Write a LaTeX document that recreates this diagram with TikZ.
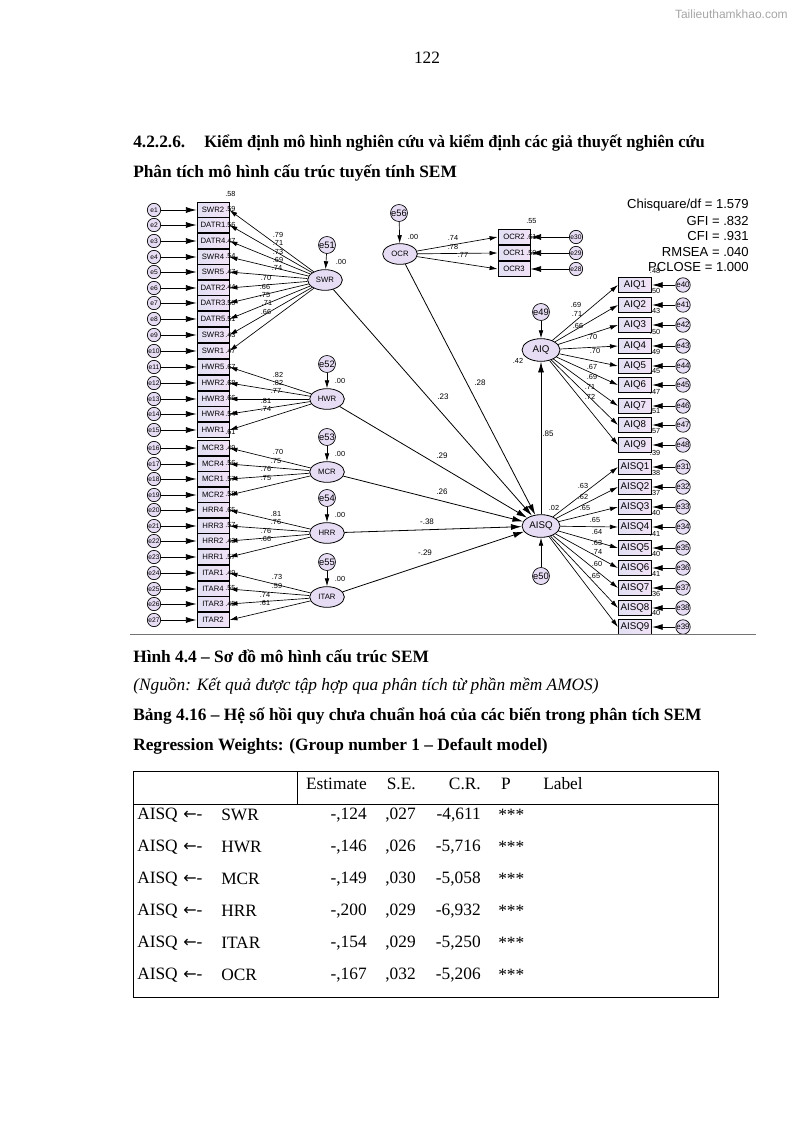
\documentclass[tikz,border=0pt]{standalone}
\usepackage{fontspec}
\setmainfont{Liberation Serif}
\setsansfont{Liberation Sans}
\newfontfamily\arrowfont{DejaVu Sans}
\usetikzlibrary{shapes.geometric,arrows.meta,calc}
\definecolor{boxL}{RGB}{226,224,244}
\definecolor{boxR}{RGB}{242,226,246}
\definecolor{latfill}{RGB}{230,220,243}
\begin{document}
\begin{tikzpicture}[x=0.75pt,y=-0.75pt,
 ind/.style={draw, line width=0.6pt, left color=boxL, right color=boxR, minimum width=24pt, minimum height=11pt, inner sep=0pt, font=\sffamily\fontsize{5.8}{6}\selectfont},
 indR/.style={ind, minimum width=25pt, minimum height=11pt, font=\sffamily\fontsize{7.3}{8}\selectfont},
 err/.style={circle, draw, line width=0.5pt, fill=latfill, minimum size=10pt, inner sep=0pt, font=\sffamily\fontsize{5}{5}\selectfont},
 errL/.style={err, minimum size=12.75pt, font=\sffamily\fontsize{7}{7}\selectfont},
 lat/.style={ellipse, draw, line width=0.6pt, fill=latfill, minimum width=26pt, minimum height=15.5pt, inner sep=0pt, font=\sffamily\fontsize{5.8}{6}\selectfont},
 latR/.style={lat, minimum width=28.5pt, minimum height=17pt, font=\sffamily\fontsize{7.3}{8}\selectfont},
 arrE/.style={-{Latex[length=8pt,width=4.5pt]}, line width=0.6pt},
 arrL/.style={-{Latex[length=6pt,width=3.5pt]}, line width=0.5pt},
 lbl/.style={inner sep=0pt, font=\sffamily\fontsize{5.5}{6}\selectfont},
 lblB/.style={inner sep=0pt, font=\sffamily\fontsize{6}{6}\selectfont},
 txt/.style={anchor=west, inner sep=0pt, font=\fontsize{13}{15}\selectfont},
 cell/.style={inner sep=0pt, font=\fontsize{13}{15}\selectfont},
]
\useasboundingbox (0,0) rectangle (794,1123);

% watermark and page number
\node[anchor=east, inner sep=0pt, text=black!35, font=\sffamily\fontsize{9}{10}\selectfont] (wm) at (788,14) {Tailieuthamkhao.com};
\node[cell] (pg) at (427,58) {122};

% headings
\node[txt, font=\bfseries\fontsize{13}{15}\selectfont] (h1) at (133,143) {4.2.2.6.\hspace{1.1em}\scalebox{0.955}[1]{Kiểm định mô hình nghiên cứu và kiểm định các giả thuyết nghiên cứu}};
\node[txt, font=\bfseries\fontsize{13}{15}\selectfont] (h2) at (133,173) {Phân tích mô hình cấu trúc tuyến tính SEM};

% ---------- left indicator column ----------
\foreach \n/\y/\r [count=\i] in {SWR2/210/.58, DATR1/225/.59, DATR4/241/.56, SWR4/257/.47, SWR5/272/.54, DATR2/288/.47, DATR3/303/.44, DATR5/319/.50, SWR3/335/.51, SWR1/351/.43, HWR5/367/.47, HWR2/383/.67, HWR3/399/.68, HWR4/414/.66, HWR1/430/.54, MCR3/448/.61, MCR4/464/.49, MCR1/479/.56, MCR2/495/.57, HRR4/510/.58, HRR3/526/.65, HRR2/541/.57, HRR1/557/.43, ITAR1/573/.57, ITAR4/589/.49, ITAR3/604/.55, ITAR2/620/.45} {
  \node[ind] (\n) at (213,\y) {\n\hspace{5pt}};
  \node[err] (e\i) at (154,\y) {e\i};
  \draw[arrE] (e\i) -- (\n);
  \node[lbl] (r\n) at ($(\n.north east)+(1,-8)$) {\r};
}

% latent variables, left
\node[lat] (swr) at (325,280) {SWR};
\node[lat] (hwr) at (327,399) {HWR};
\node[lat] (mcr) at (327,472) {MCR};
\node[lat] (hrr) at (327,533) {HRR};
\node[lat] (itar) at (327,597) {ITAR};
\node[errL] (e51) at (327,245) {e51};
\node[errL] (e52) at (327,364) {e52};
\node[errL] (e53) at (327,437) {e53};
\node[errL] (e54) at (327,498) {e54};
\node[errL] (e55) at (327,562) {e55};
\foreach \a/\b in {e51/swr,e52/hwr,e53/mcr,e54/hrr,e55/itar} \draw[arrL] (\a) -- (\b);
\node[lbl] (v51) at (341,262) {.00};
\node[lbl] (v52) at (340,381) {.00};
\node[lbl] (v53) at (340,454) {.00};
\node[lbl] (v54) at (340,515) {.00};
\node[lbl] (v55) at (340,579) {.00};

\foreach \n in {SWR2,DATR1,DATR4,SWR4,SWR5,DATR2,DATR3,DATR5,SWR3,SWR1} \draw[arrL] (swr) -- (\n.east);
\foreach \n in {HWR5,HWR2,HWR3,HWR4,HWR1} \draw[arrL] (hwr) -- (\n.east);
\foreach \n in {MCR3,MCR4,MCR1,MCR2} \draw[arrL] (mcr) -- (\n.east);
\foreach \n in {HRR4,HRR3,HRR2,HRR1} \draw[arrL] (hrr) -- (\n.east);
\foreach \n in {ITAR1,ITAR4,ITAR3,ITAR2} \draw[arrL] (itar) -- (\n.east);

% loadings, left
\foreach \v/\x/\y [count=\k] in {.79/278/235, .71/278/243, .73/278/252, .69/278/260, .74/277/268, .70/266/278, .66/265/287, .75/265/295, .71/267/303, .66/266/312,
  .82/278/375, .82/278/383, .77/276/391, .81/266/401, .74/266/409,
  .70/278/452, .75/276/461, .76/266/469, .75/266/478,
  .81/276/514, .76/276/522, .76/266/531, .66/266/539,
  .73/277/577, .59/277/586, .74/265/595, .61/265/603}
  \node[lbl] (ld\k) at (\x,\y) {\v};

% ---------- OCR ----------
\node[lat] (ocr) at (400,254) {OCR};
\node[errL] (e56) at (399,213) {e56};
\draw[arrL] (e56) -- (ocr);
\node[lbl] (v56) at (413,237) {.00};
\foreach \n/\y/\e/\r in {OCR2/237/30/.55, OCR1/253/29/.61, OCR3/269/28/.59} {
  \node[ind, minimum width=24pt] (\n) at (514,\y) {\n\hspace{5pt}};
  \node[err] (e\e) at (576,\y) {e\e};
  \draw[arrE] (e\e) -- (\n);
  \draw[arrL] (ocr) -- (\n.west);
  \node[lbl] (r\n) at ($(\n.north east)+(1,-8)$) {\r};
}
\node[lbl] (lo1) at (453,238) {.74};
\node[lbl] (lo2) at (453,247) {.78};
\node[lbl] (lo3) at (463,255) {.77};

% fit statistics
\foreach \t/\y [count=\k] in {{Chisquare/df = 1.579}/205, {GFI = .832}/221, {CFI = .931}/236, {RMSEA = .040}/252, {PCLOSE = 1.000}/267}
  \node[anchor=east, inner sep=0pt, font=\sffamily\fontsize{9.8}{10}\selectfont] (fit\k) at (749,\y) {\t};

% ---------- AIQ ----------
\node[latR] (aiq) at (541,350) {AIQ};
\node[errL] (e49) at (541,312) {e49};
\draw[arrL] (e49) -- (aiq);
\node[lbl] (v49) at (518,361) {.42};
\foreach \n/\y/\e/\r in {AIQ1/285/40/.48, AIQ2/305/41/.50, AIQ3/325/42/.43, AIQ4/346/43/.50, AIQ5/366/44/.49, AIQ6/385/45/.45, AIQ7/406/46/.47, AIQ8/425/47/.51, AIQ9/445/48/.57} {
  \node[indR] (\n) at (635,\y) {\n};
  \node[err, font=\sffamily\fontsize{6}{6}\selectfont] (e\e) at (683,\y) {e\e};
  \draw[arrE] (e\e) -- (\n);
  \draw[arrL] (aiq) -- (\n.west);
  \node[lbl] (r\n) at ($(\n.north east)+(3,-6)$) {\r};
}
\foreach \v/\x/\y [count=\k] in {.69/576/305, .71/577/314, .66/578/326, .70/592/337, .70/595/351, .67/592/367, .69/592/377, .71/590/387, .72/590/397}
  \node[lbl] (la\k) at (\x,\y) {\v};

% ---------- AISQ ----------
\node[latR] (aisq) at (541,526) {AISQ};
\node[errL] (e50) at (541,576) {e50};
\draw[arrL] (e50) -- (aisq);
\node[lbl] (v50) at (554,508) {.02};
\foreach \n/\y/\e/\r in {AISQ1/467/31/.39, AISQ2/487/32/.38, AISQ3/507/33/.37, AISQ4/527/34/.40, AISQ5/548/35/.41, AISQ6/568/36/.40, AISQ7/588/37/.41, AISQ8/608/38/.36, AISQ9/627/39/.40} {
  \node[indR] (\n) at (635,\y) {\n};
  \node[err, font=\sffamily\fontsize{6}{6}\selectfont] (e\e) at (683,\y) {e\e};
  \draw[arrE] (e\e) -- (\n);
  \draw[arrL] (aisq) -- (\n.west);
  \node[lbl] (r\n) at ($(\n.north east)+(3,-6)$) {\r};
}
\foreach \v/\x/\y [count=\k] in {.63/583/486, .62/583/497, .65/585/508, .65/595/520, .64/597/532, .63/597/543, .74/597/552, .60/597/564, .65/595/576}
  \node[lbl] (lq\k) at (\x,\y) {\v};

% ---------- structural paths ----------
\draw[arrE] (swr) -- (aisq);
\draw[arrE] (ocr) -- (aisq);
\draw[arrE] (hwr) -- (aisq);
\draw[arrE] (mcr) -- (aisq);
\draw[arrE] (hrr) -- (aisq);
\draw[arrE] (itar) -- (aisq);
\draw[arrE] (aisq) -- (aiq);
\node[lblB] (s1) at (443,397) {.23};
\node[lblB] (s2) at (480,383) {.28};
\node[lblB] (s3) at (442,456) {.29};
\node[lblB] (s4) at (442,492) {.26};
\node[lblB] (s5) at (427,522) {-.38};
\node[lblB] (s6) at (425,553) {-.29};
\node[lblB] (s7) at (548,434) {.85};

% separator
\draw[black!55, line width=0.6pt] (130,634) -- (756,634);

% captions
\node[txt, font=\bfseries\fontsize{13}{15}\selectfont] (c1) at (133,656) {Hình 4.4 – Sơ đồ mô hình cấu trúc SEM};
\node[txt, font=\itshape\fontsize{13}{15}\selectfont] (c2) at (133,686) {(Nguồn: Kết quả được tập hợp qua phân tích từ phần mềm AMOS)};
\node[txt, font=\bfseries\fontsize{13}{15}\selectfont] (c3) at (133,716) {Bảng 4.16 – Hệ số hồi quy chưa chuẩn hoá của các biến trong phân tích SEM};
\node[txt, font=\bfseries\fontsize{13}{15}\selectfont] (c4) at (133,746) {Regression Weights: (Group number 1 – Default model)};

% ---------- table ----------
\draw[line width=0.7pt] (133,771) rectangle (718,997);
\draw[line width=0.7pt] (133,804) -- (718,804);
\draw[line width=0.7pt] (297,771) -- (297,804);
\node[cell, anchor=east] (th1) at (367,784) {Estimate};
\node[cell, anchor=east] (th2) at (416,784) {S.E.};
\node[cell, anchor=east] (th3) at (481,784) {C.R.};
\node[cell, anchor=east] (th4) at (511,784) {P};
\node[cell, anchor=west] (th5) at (543,784) {Label};
\foreach \v/\e/\s/\c [count=\k] in {SWR/-{,}124/{,}027/-4{,}611, HWR/-{,}146/{,}026/-5{,}716, MCR/-{,}149/{,}030/-5{,}058, HRR/-{,}200/{,}029/-6{,}932, ITAR/-{,}154/{,}029/-5{,}250, OCR/-{,}167/{,}032/-5{,}206} {
  \node[cell, anchor=west] (ta\k) at (137,{815+32*(\k-1)}) {AISQ};
  \node[cell, anchor=west] (tb\k) at (183,{815+32*(\k-1)}) {{\arrowfont\fontsize{12}{14}\selectfont ←}-};
  \node[cell, anchor=west] (tc\k) at (221,{815+32*(\k-1)}) {\v};
  \node[cell, anchor=east] (td\k) at (367,{815+32*(\k-1)}) {\e};
  \node[cell, anchor=east] (te\k) at (416,{815+32*(\k-1)}) {\s};
  \node[cell, anchor=east] (tf\k) at (481,{815+32*(\k-1)}) {\c};
  \node[cell, anchor=west] (tg\k) at (498,{815+32*(\k-1)}) {***};
}
\end{tikzpicture}
\end{document}
